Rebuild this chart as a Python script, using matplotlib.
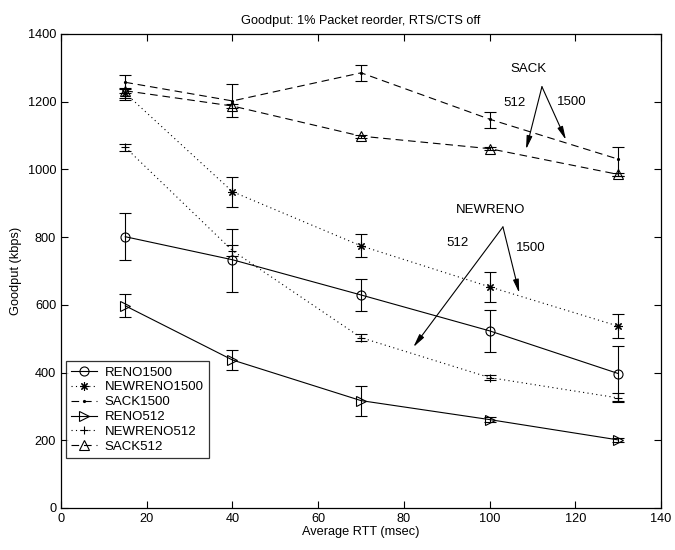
import matplotlib
matplotlib.use("Agg")
import matplotlib.pyplot as plt

plt.rcParams['font.family'] = ['Liberation Sans', 'DejaVu Sans']
plt.rcParams['lines.scale_dashes'] = False

rtt = [15, 40, 70, 100, 130]

reno1500 = [801, 733, 629, 523, 397]
reno1500_lo = [732, 639, 582, 461, 315]
reno1500_hi = [870, 824, 676, 585, 478]

newreno1500 = [1225, 934, 774, 653, 537]
newreno1500_lo = [1212, 890, 742, 608, 502]
newreno1500_hi = [1240, 978, 808, 697, 573]

sack1500 = [1257, 1202, 1285, 1148, 1030]
sack1500_lo = [1205, 1154, 1261, 1123, 981]
sack1500_hi = [1279, 1251, 1308, 1170, 1065]

reno512 = [597, 437, 317, 261, 201]
reno512_lo = [565, 408, 273, 255, 196]
reno512_hi = [631, 467, 359, 268, 207]

newreno512 = [1065, 760, 503, 385, 325]
newreno512_lo = [1055, 745, 493, 378, 312]
newreno512_hi = [1075, 777, 514, 392, 339]

sack512 = [1232, 1187, 1098, 1061, 985]
sack512_lo = [1225, 1182, 1094, 1057, 980]
sack512_hi = [1238, 1192, 1102, 1065, 990]

labels = ['RENO1500', 'NEWRENO1500', 'SACK1500', 'RENO512', 'NEWRENO512', 'SACK512']

fig = plt.figure(figsize=(6.75, 5.5), dpi=100)
ax = fig.add_axes([0.0904, 0.0764, 0.889, 0.862])

dash = (0, (5.5, 3.5))
dot = (0, (0.8, 2.4))
series = [
    (reno1500, reno1500_lo, reno1500_hi, '-', 'o', 6.5),
    (newreno1500, newreno1500_lo, newreno1500_hi, dot, (8, 2, 0), 6),
    (sack1500, sack1500_lo, sack1500_hi, dash, '.', 3),
    (reno512, reno512_lo, reno512_hi, '-', '>', 6.5),
    (newreno512, newreno512_lo, newreno512_hi, dot, '+', 6),
    (sack512, sack512_lo, sack512_hi, dash, '^', 6.5),
]

handles = []
for (vals, lo, hi, ls, mk, ms), lab in zip(series, labels):
    yerr = [[v - l for v, l in zip(vals, lo)], [h - v for v, h in zip(vals, hi)]]
    ax.errorbar(rtt, vals, yerr=yerr, fmt='none', ecolor='black',
                elinewidth=0.8, capsize=4, capthick=0.8)
    ln, = ax.plot(rtt, vals, color='black', linestyle=ls, linewidth=0.8,
                  marker=mk, markersize=ms, markerfacecolor='none',
                  markeredgecolor='black', markeredgewidth=0.8, label=lab)
    handles.append(ln)

ax.set_xlim(0, 140)
ax.set_ylim(0, 1400)
ax.set_xticks(range(0, 141, 20))
ax.set_yticks(range(0, 1401, 200))
ax.tick_params(direction='in', top=True, right=True, length=5, width=0.8,
               labelsize=9.2)
for s in ax.spines.values():
    s.set_linewidth(0.9)

ax.set_title('Goodput: 1% Packet reorder, RTS/CTS off', fontsize=9.2, pad=7)
ax.set_xlabel('Average RTT (msec)', fontsize=9.2, labelpad=1)
ax.set_ylabel('Goodput (kbps)', fontsize=9.2, labelpad=4)

leg = ax.legend(handles=handles, loc='lower left', bbox_to_anchor=(0.008, 0.105),
                fontsize=9.5, frameon=True, fancybox=False, edgecolor='black',
                handlelength=2.0, handletextpad=0.55, borderpad=0.4,
                labelspacing=0.2, borderaxespad=0)
leg.get_frame().set_linewidth(0.9)

arrow = dict(arrowstyle='-|>,head_length=0.8,head_width=0.17', color='black',
             linewidth=0.8, shrinkA=0, shrinkB=0)

# SACK annotation
ax.annotate('', xy=(108.5, 1059), xytext=(112.2, 1244), arrowprops=arrow)
ax.annotate('', xy=(117.8, 1087), xytext=(112.2, 1244), arrowprops=arrow)
ax.text(109, 1296, 'SACK', ha='center', va='center', fontsize=9.5)
ax.text(105.7, 1196, '512', ha='center', va='center', fontsize=9.5)
ax.text(119.2, 1198, '1500', ha='center', va='center', fontsize=9.5)

# NEWRENO annotation
ax.annotate('', xy=(82.2, 475), xytext=(103.1, 830), arrowprops=arrow)
ax.annotate('', xy=(106.9, 635), xytext=(103.1, 830), arrowprops=arrow)
ax.text(100.2, 880, 'NEWRENO', ha='center', va='center', fontsize=9.5)
ax.text(92.6, 783, '512', ha='center', va='center', fontsize=9.5)
ax.text(109.6, 767, '1500', ha='center', va='center', fontsize=9.5)

fig.savefig('out.png', dpi=100)
